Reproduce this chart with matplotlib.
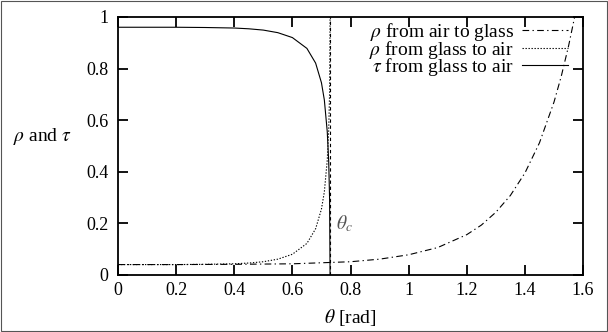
import matplotlib.pyplot as plt
from matplotlib.patches import Rectangle

plt.rcParams['font.family'] = 'serif'
plt.rcParams['font.serif'] = ['Liberation Serif', 'DejaVu Serif']
plt.rcParams['mathtext.fontset'] = 'stix'

# rho from air to glass
theta_ag = [0, 0.2, 0.4, 0.6, 0.8, 0.9, 1.0, 1.1, 1.2, 1.25, 1.3, 1.35,
            1.4, 1.45, 1.5, 1.525, 1.55, 1.571]
rho_ag = [0.040, 0.040, 0.041, 0.043, 0.051, 0.061, 0.078, 0.106, 0.156,
          0.193, 0.243, 0.308, 0.395, 0.512, 0.670, 0.770, 0.887, 1.0]

# rho and tau from glass to air
theta_ga = [0, 0.2, 0.3, 0.4, 0.45, 0.5, 0.55, 0.6, 0.65, 0.68, 0.70,
            0.71, 0.72, 0.725, 0.728, 0.7297]
rho_ga = [0.040, 0.040, 0.041, 0.043, 0.046, 0.051, 0.061, 0.080, 0.122,
          0.179, 0.255, 0.322, 0.445, 0.561, 0.705, 1.0]
tau_ga = [0.960, 0.960, 0.959, 0.957, 0.954, 0.949, 0.939, 0.920, 0.878,
          0.821, 0.745, 0.678, 0.555, 0.439, 0.295, 0.0]

theta_c = 0.73

xticks = [0, 0.2, 0.4, 0.6, 0.8, 1, 1.2, 1.4, 1.6]
yticks = [0, 0.2, 0.4, 0.6, 0.8, 1]

fig = plt.figure(figsize=(6.08, 3.32), dpi=100)
ax = fig.add_axes([0.194, 0.172, 0.765, 0.777])

ax.plot(theta_ag, rho_ag, color='black', lw=0.8, dashes=[6, 3, 1.2, 3],
        label=r'$\rho$ from air to glass')
ax.plot(theta_ga, rho_ga, color='black', lw=0.8, dashes=[1.2, 1.5],
        label=r'$\rho$ from glass to air')
ax.plot(theta_ga, tau_ga, color='black', lw=0.8,
        label=r'$\tau$ from glass to air')
ax.plot([theta_c, theta_c], [0, 1], color='black', lw=0.8, dashes=[3, 2.5])
ax.text(0.75, 0.2, r'$\theta_c$', fontsize=14, color='#555555',
        ha='left', va='center')

ax.set_xlim(0, 1.6)
ax.set_ylim(0, 1)
ax.set_xticks(xticks)
ax.set_yticks(yticks)
ax.set_xticklabels(['%g' % v for v in xticks])
ax.set_yticklabels(['%g' % v for v in yticks])
ax.tick_params(direction='in', length=7, width=1.3, top=True, right=True,
               labelsize=13)
ax.tick_params(axis='y', pad=7)
ax.tick_params(axis='x', pad=5)
for s in ax.spines.values():
    s.set_linewidth(1.3)

ax.set_xlabel(r'$\theta$ [rad]', fontsize=14, labelpad=6)
fig.text(0.07, 0.59, r'$\rho$ and $\tau$', fontsize=14, ha='center', va='center')

ax.legend(loc='upper right', bbox_to_anchor=(0.968, 0.985), frameon=False,
          markerfirst=False, fontsize=14, labelspacing=-0.22, borderpad=0,
          borderaxespad=0, handlelength=2.4, handletextpad=0.4)

fig.patches.append(Rectangle((0.002, 0.002), 0.996, 0.994, transform=fig.transFigure,
                             fill=False, edgecolor='#555555', lw=0.8))

fig.savefig('out.png', dpi=100)
